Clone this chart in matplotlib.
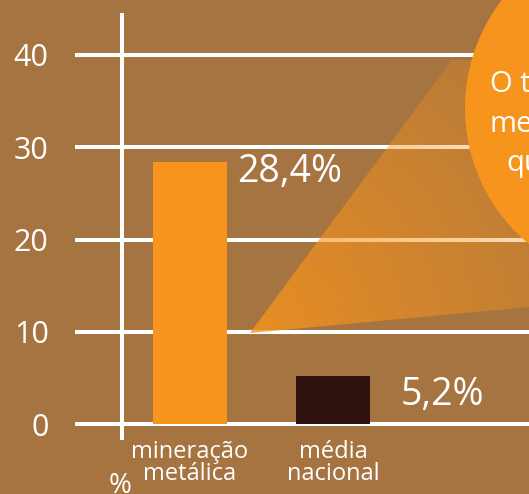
import numpy as np
import matplotlib
matplotlib.use("Agg")
import matplotlib.pyplot as plt
from matplotlib.patches import Polygon, Ellipse

plt.rcParams["font.family"] = ["Open Sans", "DejaVu Sans"]

categories = ["mineração\nmetálica", "média\nnacional"]
values = [28.4, 5.2]
value_labels = ["28,4%", "5,2%"]
y_ticks = [0, 10, 20, 30, 40]
y_tick_labels = ["0", "10", "20", "30", "40"]
callout_lines = ["O t", "me", "qu"]

bg = "#A67440"
orange = "#F7941D"
dark = "#2E120E"
bar_colors = [orange, dark]
label_offsets = [(10, -20), (31, -29)]  # pixels, from bar top-right to text baseline

W, H = 529, 494
fig = plt.figure(figsize=(W / 100, H / 100), dpi=100, facecolor=bg)

# main data axes
ax = fig.add_axes([75 / W, (H - 440) / H, 454 / W, 427 / H])
ax.set_facecolor("none")
ax.set_xlim(-0.804, 2.371)
ax.set_ylim(-1.73, 44.55)
for s in ax.spines.values():
    s.set_visible(False)

for v in y_ticks:
    ax.axhline(v, color="white", lw=2.9, zorder=1)
ax.axvline(-0.4755, color="white", lw=2.9, zorder=1)

x = np.arange(len(categories))
bars = ax.bar(x, values, width=0.517, color=bar_colors, zorder=2)

for b, lab, (dx, dy) in zip(bars, value_labels, label_offsets):
    ax.annotate(lab, (b.get_x() + b.get_width(), b.get_height()),
                xytext=(dx * 0.72, dy * 0.72), textcoords="offset points",
                ha="left", va="baseline", color="white", fontsize=27)

ax.set_yticks(y_ticks, y_tick_labels)
ax.set_xticks(x, categories)
ax.tick_params(axis="y", length=0, pad=19, labelsize=22, labelcolor="white")
ax.tick_params(axis="x", length=0, pad=0, labelsize=17, labelcolor="white")
for t in ax.get_xticklabels():
    t.set_linespacing(0.9)

# decoration overlay in pixel coords
ov = fig.add_axes([0, 0, 1, 1])
ov.set_xlim(0, W)
ov.set_ylim(H, 0)
ov.axis("off")
ov.set_facecolor("none")

apex = (250, 333)
tri = Polygon([apex, (452, 60), (529, 60), (529, 307)], closed=True,
              facecolor="none", edgecolor="none")
ov.add_patch(tri)
yy, xx = np.mgrid[0:H, 0:W]
d = np.hypot(xx - apex[0], yy - apex[1])
alpha = np.clip(0.82 - 0.55 * d / 330, 0.22, 0.85)
img = np.zeros((H, W, 4))
img[..., 0] = 247 / 255
img[..., 1] = 148 / 255
img[..., 2] = 29 / 255
img[..., 3] = alpha
im = ov.imshow(img, extent=(0, W, H, 0), zorder=3, interpolation="bilinear")
im.set_clip_path(tri)

circ = Ellipse((642, 108), 354, 354, facecolor=orange, edgecolor="none", zorder=4)
ov.add_patch(circ)

line_pos = [(490, 85), (490, 124), (506, 163)]
for txt, (px, py) in zip(callout_lines, line_pos):
    ov.text(px, py, txt, color="white", fontsize=21, ha="left", va="center", zorder=5)

ov.text(120, 472, "%", color="white", fontsize=20, ha="center", va="top")

fig.savefig("out.png", dpi=100, facecolor=bg)
